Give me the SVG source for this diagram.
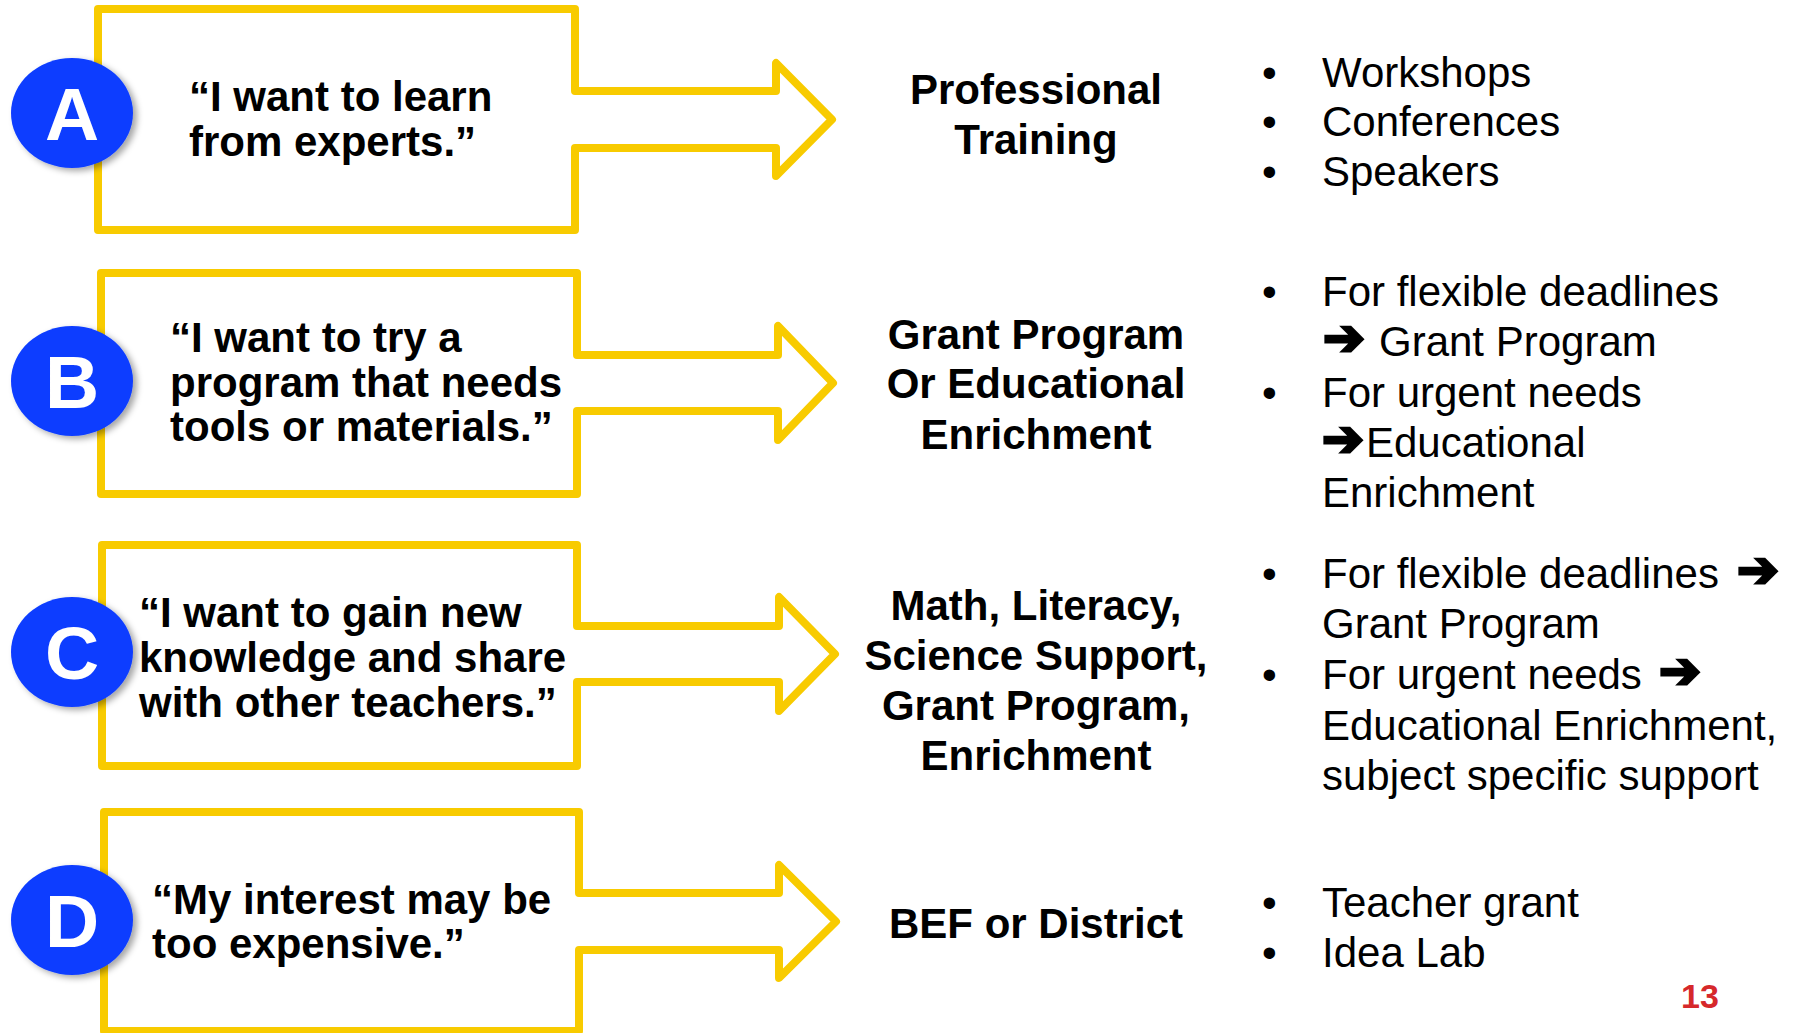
<svg xmlns="http://www.w3.org/2000/svg" width="1793" height="1033" viewBox="0 0 1793 1033">
  <style>
    .callout { fill: #FFFFFF; stroke: #F8CB00; stroke-width: 8; stroke-linejoin: round; }
    .badge { fill: #0A3CFF; filter: url(#shadow); }
    .letter { font-family: "Liberation Sans", Arial, sans-serif; font-weight: bold; font-size: 75px; fill: #FFFFFF; text-anchor: middle; }
    .quote { font-family: "Liberation Sans", Arial, sans-serif; font-weight: bold; font-size: 42px; fill: #000000; }
    .target { font-family: "Liberation Sans", Arial, sans-serif; font-weight: bold; font-size: 42px; fill: #000000; text-anchor: middle; }
    .list { font-family: "Liberation Sans", Arial, sans-serif; font-size: 42px; fill: #000000; }
    .arr { font-family: "DejaVu Sans", sans-serif; font-weight: bold; font-size: 50px; fill: #000000; stroke: #000000; stroke-width: 3; }
    .page { font-family: "Liberation Sans", Arial, sans-serif; font-weight: bold; font-size: 34px; fill: #D6282B; }
  </style>
  <defs>
    <filter id="shadow" x="-20%" y="-20%" width="150%" height="150%">
      <feDropShadow dx="4" dy="3" stdDeviation="3" flood-color="#000000" flood-opacity="0.35"/>
    </filter>
  </defs>
  <rect width="1793" height="1033" fill="#FFFFFF"/>

  <!-- Row A -->
  <g id="node-A">
    <path class="callout" d="M575,91 L575,9 L98,9 L98,230 L575,230 L575,148 L776,148 L776,176 L832,119.5 L776,63 L776,91 Z"/>
    <text class="quote"><tspan x="189" y="111">“I want to learn</tspan><tspan x="189" y="156">from experts.”</tspan></text>
  </g>
  <g id="badge-A">
    <ellipse class="badge" cx="72" cy="113" rx="61" ry="55"/>
    <text class="letter" x="72" y="140">A</text>
  </g>
  <g id="target-A">
    <text class="target"><tspan x="1036" y="104">Professional</tspan><tspan x="1036" y="154">Training</tspan></text>
  </g>
  <g id="list-A">
    <text class="list"><tspan x="1262" y="87">•</tspan><tspan x="1322" y="87">Workshops</tspan></text>
    <text class="list"><tspan x="1262" y="136">•</tspan><tspan x="1322" y="136">Conferences</tspan></text>
    <text class="list"><tspan x="1262" y="186">•</tspan><tspan x="1322" y="186">Speakers</tspan></text>
  </g>

  <!-- Row B -->
  <g id="node-B">
    <path class="callout" d="M577,355 L577,273 L101,273 L101,494 L577,494 L577,411 L778,411 L778,440 L833,383 L778,326 L778,355 Z"/>
    <text class="quote"><tspan x="170" y="352">“I want to try a</tspan><tspan x="170" y="397">program that needs</tspan><tspan x="170" y="441">tools or materials.”</tspan></text>
  </g>
  <g id="badge-B">
    <ellipse class="badge" cx="72" cy="381" rx="61" ry="55"/>
    <text class="letter" x="72" y="408">B</text>
  </g>
  <g id="target-B">
    <text class="target"><tspan x="1036" y="349">Grant Program</tspan><tspan x="1036" y="398">Or Educational</tspan><tspan x="1036" y="449">Enrichment</tspan></text>
  </g>
  <g id="list-B">
    <text class="list"><tspan x="1262" y="306">•</tspan><tspan x="1322" y="306">For flexible deadlines</tspan></text>
    <text class="list"><tspan class="arr" x="1323" y="355">➔</tspan><tspan x="1379" y="356">Grant Program</tspan></text>
    <text class="list"><tspan x="1262" y="407">•</tspan><tspan x="1322" y="407">For urgent needs</tspan></text>
    <text class="list"><tspan class="arr" x="1322" y="456">➔</tspan><tspan x="1366" y="457">Educational</tspan></text>
    <text class="list" x="1322" y="507">Enrichment</text>
  </g>

  <!-- Row C -->
  <g id="node-C">
    <path class="callout" d="M577,626 L577,545 L102,545 L102,766 L577,766 L577,682 L779,682 L779,711 L835,654 L779,597 L779,626 Z"/>
    <text class="quote"><tspan x="139" y="627">“I want to gain new</tspan><tspan x="139" y="672">knowledge and share</tspan><tspan x="139" y="717">with other teachers.”</tspan></text>
  </g>
  <g id="badge-C">
    <ellipse class="badge" cx="72" cy="652" rx="61" ry="55"/>
    <text class="letter" x="72" y="679">C</text>
  </g>
  <g id="target-C">
    <text class="target"><tspan x="1036" y="620">Math, Literacy,</tspan><tspan x="1036" y="670">Science Support,</tspan><tspan x="1036" y="720">Grant Program,</tspan><tspan x="1036" y="770">Enrichment</tspan></text>
  </g>
  <g id="list-C">
    <text class="list"><tspan x="1262" y="588">•</tspan><tspan x="1322" y="588">For flexible deadlines</tspan><tspan class="arr" x="1737" y="587">➔</tspan></text>
    <text class="list" x="1322" y="638">Grant Program</text>
    <text class="list"><tspan x="1262" y="689">•</tspan><tspan x="1322" y="689">For urgent needs</tspan><tspan class="arr" x="1659" y="688">➔</tspan></text>
    <text class="list" x="1322" y="740">Educational Enrichment,</text>
    <text class="list" x="1322" y="790">subject specific support</text>
  </g>

  <!-- Row D -->
  <g id="node-D">
    <path class="callout" d="M579,893 L579,812 L104,812 L104,1031 L579,1031 L579,950 L779,950 L779,978 L836,921.5 L779,865 L779,893 Z"/>
    <text class="quote"><tspan x="152" y="914">“My interest may be</tspan><tspan x="152" y="958">too expensive.”</tspan></text>
  </g>
  <g id="badge-D">
    <ellipse class="badge" cx="72" cy="920" rx="61" ry="55"/>
    <text class="letter" x="72" y="947">D</text>
  </g>
  <g id="target-D">
    <text class="target" x="1036" y="938">BEF or District</text>
  </g>
  <g id="list-D">
    <text class="list"><tspan x="1262" y="917">•</tspan><tspan x="1322" y="917">Teacher grant</tspan></text>
    <text class="list"><tspan x="1262" y="967">•</tspan><tspan x="1322" y="967">Idea Lab</tspan></text>
  </g>

  <g id="connectors"></g>

  <text class="page" x="1681" y="1008">13</text>
</svg>
